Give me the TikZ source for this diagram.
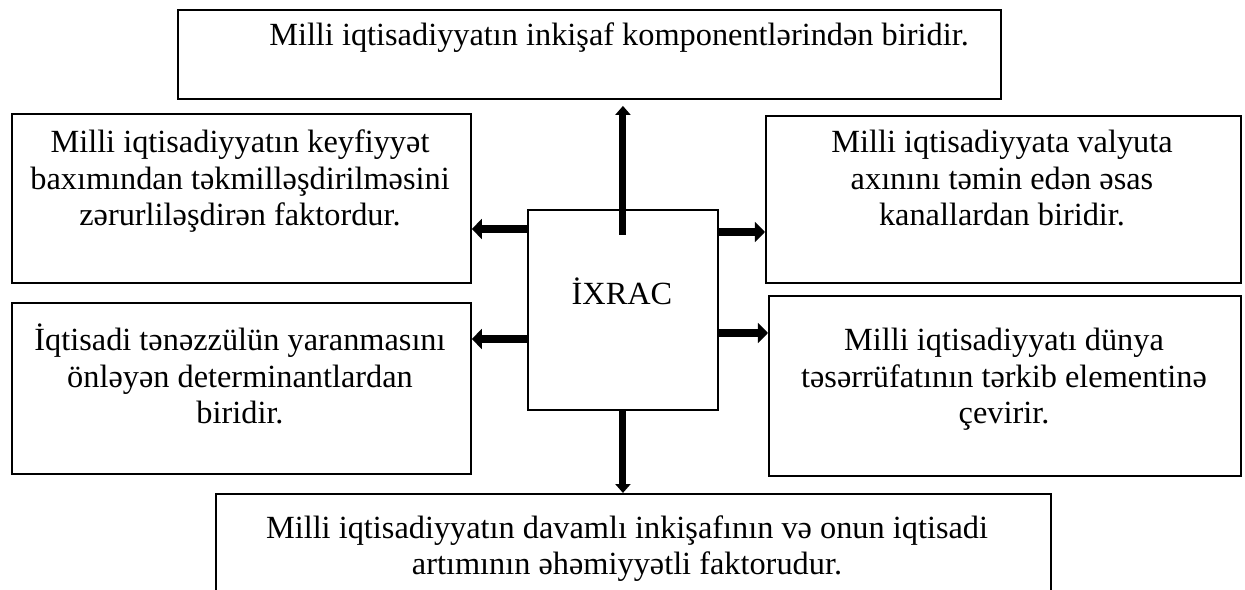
\documentclass[tikz,border=0pt]{standalone}
\usepackage{fontspec}
\setmainfont{Liberation Serif}
\usetikzlibrary{arrows.meta,positioning}

\begin{document}
\begin{tikzpicture}[x=0.02cm, y=-0.02cm,
  every node/.style={font=\fontsize{18.4}{21}\selectfont},
  box/.style={draw, line width=1.1pt, inner sep=0pt, anchor=north west},
  txt/.style={align=center, inner sep=0pt, anchor=base},
  hfat/.style={line width=5.1pt, -{Triangle[length=5.7pt, width=11.3pt]}},
  vfat/.style={line width=4pt, -{Triangle[length=5.1pt, width=8.5pt]}}]
\useasboundingbox (0,0) rectangle (1245,590);
\node[box, minimum width=16.46cm, minimum height=1.78cm] (top) at (177,9) {};
\node[box, minimum width=9.18cm, minimum height=3.38cm] (ltop) at (11,113) {};
\node[box, minimum width=9.18cm, minimum height=3.42cm] (lbot) at (11,302) {};
\node[box, minimum width=3.8cm, minimum height=4cm] (ctr) at (527,209) {};
\node[box, minimum width=9.5cm, minimum height=3.34cm] (rtop) at (765,115) {};
\node[box, minimum width=9.44cm, minimum height=3.6cm] (rbot) at (768,295) {};
\node[box, minimum width=16.7cm, minimum height=2.34cm] (bot) at (215,493) {};

\node[txt] (topt) at (619,46) {Milli iqtisadiyyatın inkişaf komponentlərindən biridir.};
\node[txt] (ltopt) at (240,226) {Milli iqtisadiyyatın keyfiyyət\\baxımından təkmilləşdirilməsini\\zərurliləşdirən faktordur.};
\node[txt] (lbott) at (240,424) {İqtisadi tənəzzülün yaranmasını\\önləyən determinantlardan\\biridir.};
\node[txt] (ctrt) at (622,305) {İXRAC};
\node[txt] (rtopt) at (1002,226) {Milli iqtisadiyyata valyuta\\axınını təmin edən əsas\\kanallardan biridir.};
\node[txt] (rbott) at (1004,424) {Milli iqtisadiyyatı dünya\\təsərrüfatının tərkib elementinə\\çevirir.};
\node[txt] (bott) at (627,575) {Milli iqtisadiyyatın davamlı inkişafının və onun iqtisadi\\artımının əhəmiyyətli faktorudur.};

\draw[hfat] (ctr.west |- 0,229) -- (ltop.east |- 0,229);
\draw[hfat] (ctr.west |- 0,339) -- (lbot.east |- 0,339);
\draw[hfat] (ctr.east |- 0,232) -- (rtop.west |- 0,232);
\draw[hfat] (ctr.east |- 0,333) -- (rbot.west |- 0,333);
\draw[vfat, shorten >=0.12cm] (ctr.north |- 0,235) -- (ctr.north |- top.south);
\draw[vfat] (ctr.south) -- (ctr.south |- bot.north);
\end{tikzpicture}
\end{document}
